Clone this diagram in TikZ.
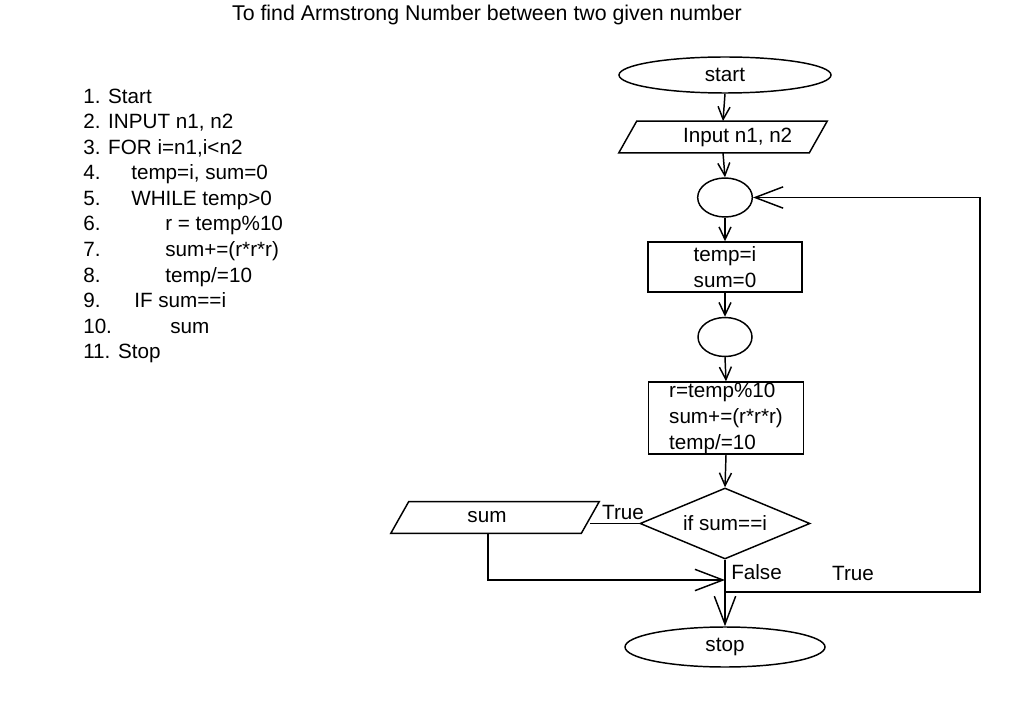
\documentclass[tikz,border=0pt]{standalone}
\usepackage{fontspec}
\setmainfont{Liberation Sans}
\usetikzlibrary{shapes.geometric,arrows.meta}
\begin{document}
\begin{tikzpicture}[x=0.75pt,y=-0.75pt,
  every node/.style={font=\fontsize{15.5}{19.5}\selectfont},
  ln/.style={line width=1.1pt},
  sarr/.style={ln,-{Straight Barb[length=9.5pt,width=9pt]}},
  barr/.style={ln,-{Straight Barb[length=21pt,width=16pt]}},
  term/.style={ellipse,draw,ln,inner sep=0pt},
  proc/.style={rectangle,draw,ln,inner sep=0pt},
  io/.style={rectangle,inner sep=0pt,minimum width=142.5pt,minimum height=23.5pt},
  txt/.style={inner sep=0pt,anchor=base west},
  lbl/.style={inner sep=0pt}]
\useasboundingbox (0,0) rectangle (1013,720);

% title
\node[lbl,font=\fontsize{16}{19.5}\selectfont] (title) at (487,15) {To find Armstrong Number between two given number};

% algorithm
\node[txt] (a1) at (83,103.5) {1. Start};
\node[txt] (a2) at (83,129) {2. INPUT n1, n2};
\node[txt] (a3) at (83,154.5) {3. FOR i=n1,i<n2};
\node[txt] (n4) at (83,180) {4.};
\node[txt] (t4) at (131,180) {temp=i, sum=0};
\node[txt] (n5) at (83,205.5) {5.};
\node[txt] (t5) at (131,205.5) {WHILE temp>0};
\node[txt] (n6) at (83,231) {6.};
\node[txt] (t6) at (165,231) {r = temp\%10};
\node[txt] (n7) at (83,256.5) {7.};
\node[txt] (t7) at (165,256.5) {sum+=(r*r*r)};
\node[txt] (n8) at (83,282) {8.};
\node[txt] (t8) at (165,282) {temp/=10};
\node[txt] (n9) at (83,307.5) {9.};
\node[txt] (t9) at (134,307.5) {IF sum==i};
\node[txt] (n10) at (83,333) {10.};
\node[txt] (t10) at (170,333) {sum};
\node[txt] (a11) at (83,358.5) {11. Stop};

% flowchart nodes
\node[term,minimum width=159pt,minimum height=27pt] (start) at (725,75) {start};
\node[io] (inp) at (723,137) {\hspace*{22pt}Input n1, n2};
\draw[ln] ([xshift=6.75pt]inp.north west) -- ([xshift=6.75pt]inp.north east)
  -- ([xshift=-6.75pt]inp.south east) -- ([xshift=-6.75pt]inp.south west) -- cycle;
\node[term,minimum width=41pt,minimum height=29.25pt] (c1) at (725,197.5) {};
\node[proc,minimum width=115.5pt,minimum height=37.5pt,align=center] (tbox) at (725,267) {temp=i\\sum=0};
\node[term,minimum width=40.5pt,minimum height=29.25pt] (c2) at (725,337) {};
\node[proc,minimum width=116.25pt,minimum height=54pt,align=left] (box2) at (726,418)
  {r=temp\%10\\sum+=(r*r*r)\\temp/=10};
\node[diamond,draw,ln,inner sep=0pt,aspect=2.4,minimum width=127.5pt,minimum height=53.25pt] (dia) at (725,523.5) {if sum==i};
\node[io] (sum) at (495,517.5) {sum\hspace*{12pt}};
\draw[ln] ([xshift=6.75pt]sum.north west) -- ([xshift=6.75pt]sum.north east)
  -- ([xshift=-6.75pt]sum.south east) -- ([xshift=-6.75pt]sum.south west) -- cycle;
\node[term,minimum width=150pt,minimum height=30pt] (stop) at (725,647) {stop};

% labels
\node[lbl] (lt1) at (623,512) {True};
\node[lbl,anchor=west] (lf) at (731,572) {False};
\node[lbl] (lt2) at (853,573) {True};

% connectors
\draw[sarr] (start.south) -- (inp.north);
\draw[sarr] (inp.south) -- (c1.north);
\draw[sarr] (c1.south) -- (tbox.north);
\draw[sarr] (tbox.south) -- (c2.north);
\draw[sarr] (c2.south) -- (box2.north);
\draw[sarr] (box2.south) -- (dia.north);
\draw[ln] (dia.west) -- (dia.west -| sum.east);
\coordinate (m) at (725,580);
\draw[barr] ([xshift=-5.25pt]sum.south) |- (m);
\draw[barr] (dia.south) -- (stop.north);
\coordinate (lp) at (725,592);
\coordinate (rc) at (980,592);
\draw[barr] (lp) -- (rc) |- (c1.east);
\end{tikzpicture}
\end{document}
